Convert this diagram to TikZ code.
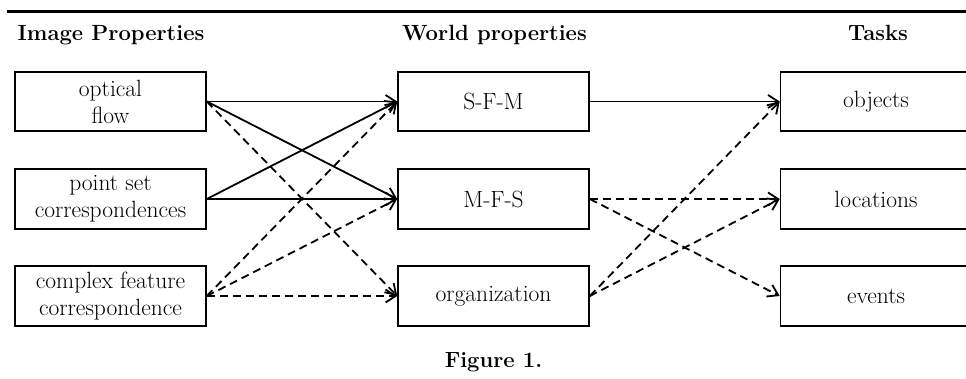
\documentclass[tikz,border=0pt]{standalone}
\usetikzlibrary{arrows.meta}
\begin{document}
\begin{tikzpicture}[x=1pt,y=-1pt,
  box/.style={draw, line width=1.6pt, minimum width=191pt, minimum height=59.5pt, inner sep=0pt, align=center, font=\fontsize{23.5}{27}\selectfont},
  head/.style={font=\bfseries\fontsize{22}{26}\selectfont, anchor=base, inner sep=0pt},
  link/.style={line width=1.8pt, -{Straight Barb[length=10pt,width=13pt]}},
  dlink/.style={link, dash pattern=on 8pt off 5pt}]
\useasboundingbox (0,0) rectangle (966,379);
\clip (0,0) rectangle (966,379);
\coordinate (rl) at (7,11.5);
\coordinate (rr) at (966,11.5);
\draw[line width=2.2pt] (rl) -- (rr);

\node[head] (h1) at (111,40.5) {Image Properties};
\node[head] (h2) at (494.5,40.5) {World properties};
\node[head] (h3) at (878,40.5) {Tasks};
\node[head] (cap) at (493.5,367) {Figure 1.};

\node[box] (of) at (110.5,101.5) {optical\\flow};
\node[box] (ps) at (110.5,199) {point set\\correspondences};
\node[box] (cf) at (110.5,296) {complex feature\\correspondence};
\node[box] (sfm) at (493.5,101.5) {S-F-M};
\node[box] (mfs) at (493.5,199) {M-F-S};
\node[box] (org) at (493.5,296) {organization};
\node[box] (obj) at (876,101.5) {objects};
\node[box] (loc) at (876,199) {locations};
\node[box] (ev) at (876,296) {events};

\draw[link] (of.east) -- (sfm.west);
\draw[link] (of.east) -- (mfs.west);
\draw[dlink] (of.east) -- (org.west);
\draw[link] (ps.east) -- (sfm.west);
\draw[link] (ps.east) -- (mfs.west);
\draw[dlink] (cf.east) -- (sfm.west);
\draw[dlink] (cf.east) -- (mfs.west);
\draw[dlink] (cf.east) -- (org.west);
\draw[link] (sfm.east) -- (obj.west);
\draw[dlink] (mfs.east) -- (loc.west);
\draw[dlink] (mfs.east) -- (ev.west);
\draw[dlink] (org.east) -- (obj.west);
\draw[dlink] (org.east) -- (loc.west);
\end{tikzpicture}
\end{document}
